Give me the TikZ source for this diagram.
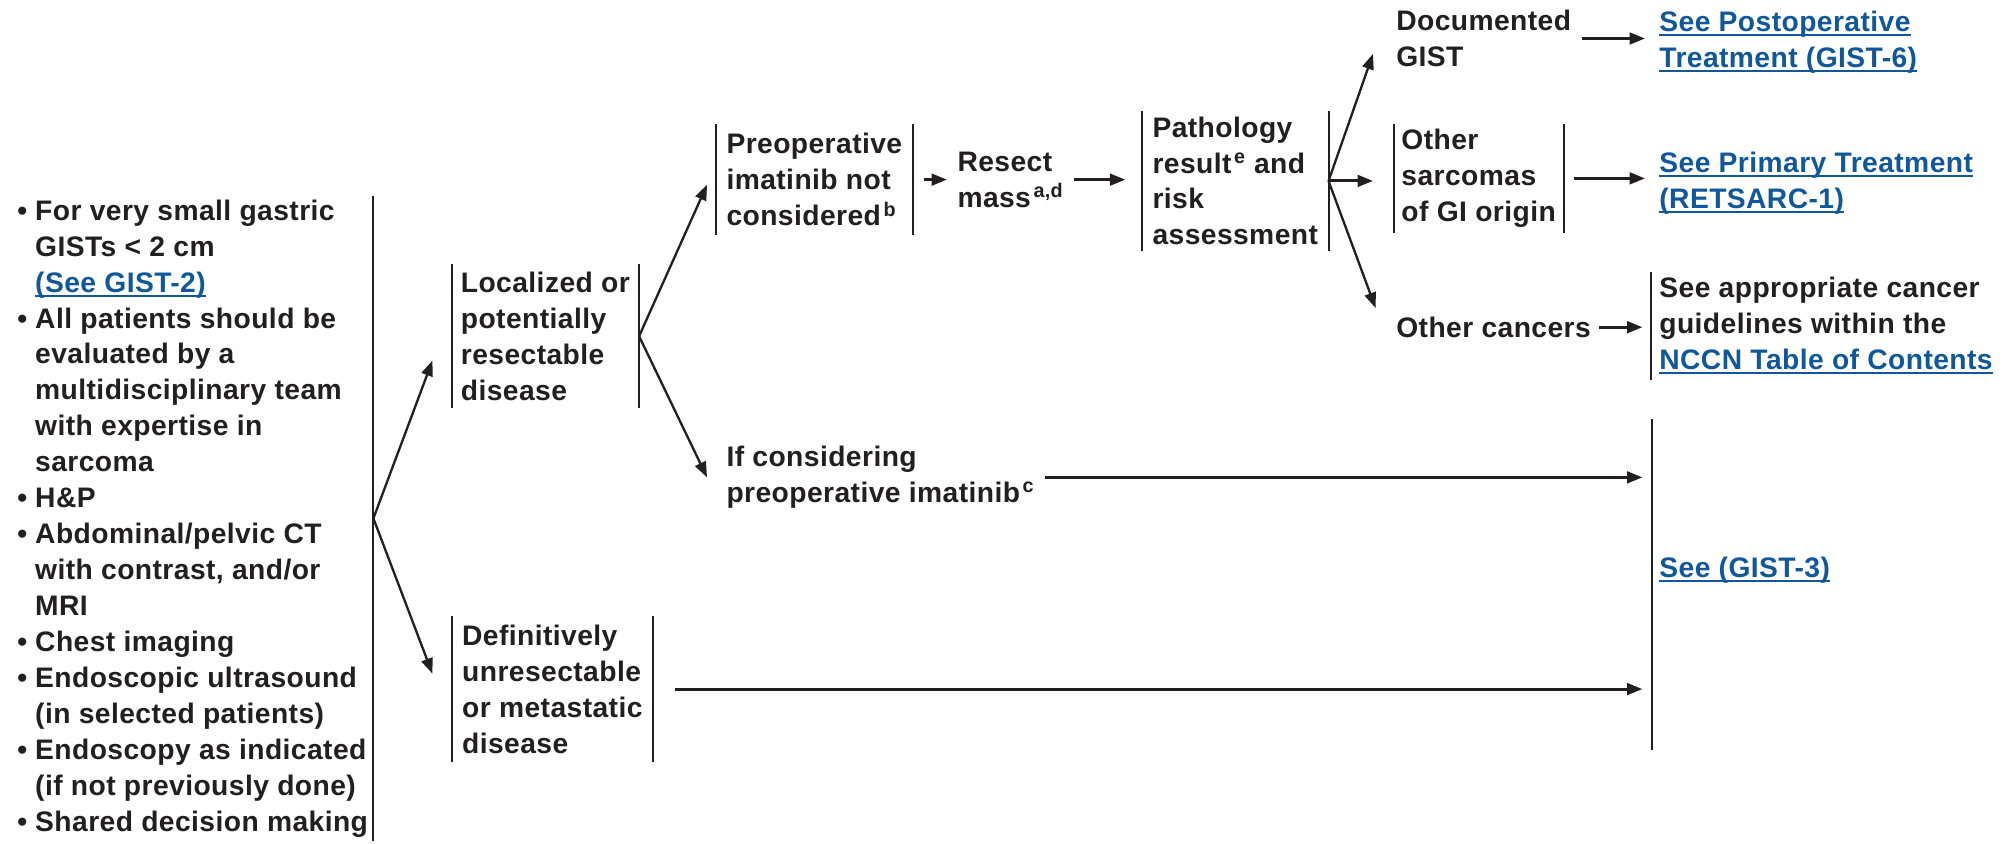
\documentclass[tikz,border=0pt]{standalone}
\usepackage{fontspec}
\setmainfont{Liberation Sans}[LetterSpace=1.5]
\usetikzlibrary{arrows.meta}
\definecolor{ink}{RGB}{35,31,32}
\definecolor{lnk}{RGB}{16,88,155}
\newcommand{\lk}[1]{\textcolor{lnk}{\setbox0\hbox{#1}\rlap{\rule[-3.5pt]{\wd0}{1.5pt}}\box0}}
\newcommand{\sps}[1]{\kern2pt\textsuperscript{#1}}
\newcommand{\bul}{\makebox[14pt][l]{\textbullet}}
\newcommand{\ind}{\hspace*{14pt}}
\begin{document}
\begin{tikzpicture}[x=1pt,y=-1pt,
  every node/.style={font=\fontsize{22}{28}\selectfont\bfseries, text=ink, align=left, inner ysep=0pt},
  tx/.style={anchor=west, inner xsep=8pt},
  bx/.style={anchor=west, inner xsep=8pt, minimum height=#1},
  arr/.style={draw=ink, line width=1.8pt, -{Triangle[length=12pt,width=9pt]}},
  harr/.style={arr, line width=2.3pt},
  brk/.style={draw=ink, line width=1.6pt}]
\useasboundingbox (0,0) rectangle (1568,657);

% left column
\node[anchor=east, inner xsep=4pt, minimum height=502pt] (left) at (291,404) {%
\bul For very small gastric\\
\ind GISTs < 2 cm\\
\ind\lk{(See GIST-2)}\\
\bul All patients should be\\
\ind evaluated by a\\
\ind multidisciplinary team\\
\ind with expertise in\\
\ind sarcoma\\
\bul H\&P\\
\bul Abdominal/pelvic CT\\
\ind with contrast, and/or\\
\ind MRI\\
\bul Chest imaging\\
\bul Endoscopic ultrasound\\
\ind (in selected patients)\\
\bul Endoscopy as indicated\\
\ind (if not previously done)\\
\bul Shared decision making};
\draw[brk] (left.north east) -- (left.south east);

% boxes
\node[bx=112pt, inner xsep=7pt] (loc) at (352,262) {Localized or\\potentially\\resectable\\disease};
\draw[brk] (loc.north west) -- (loc.south west) (loc.north east) -- (loc.south east);

\node[bx=113pt] (def) at (352,537) {Definitively\\unresectable\\or metastatic\\disease};
\draw[brk] (def.north west) -- (def.south west) (def.north east) -- (def.south east);

\node[bx=86pt] (pre) at (558,140) {Preoperative\\imatinib not\\considered\sps{b}};
\draw[brk] (pre.north west) -- (pre.south west) (pre.north east) -- (pre.south east);

\node[tx] (ifc) at (558,372) {If considering\\preoperative imatinib\sps{c}};

\node[tx] (resect) at (738,140) {Resect\\mass\sps{a,d}};

\node[bx=109pt] (path) at (890,141) {Pathology\\result\sps{e} and\\risk\\assessment};
\draw[brk] (path.north west) -- (path.south west) (path.north east) -- (path.south east);

\node[tx] (doc) at (1080,30) {Documented\\GIST};
\node[tx] (postop) at (1285,33) {\lk{See Postoperative}\\\lk{Treatment (GIST-6)}};

\node[bx=85pt, inner xsep=6pt] (osarc) at (1086,139) {Other\\sarcomas\\of GI origin};
\draw[brk] (osarc.north west) -- (osarc.south west) (osarc.north east) -- (osarc.south east);
\node[tx] (prim) at (1285,143) {\lk{See Primary Treatment}\\\lk{(RETSARC-1)}};

\node[tx, inner xsep=6pt] (ocan) at (1082,255) {Other cancers};
\node[bx=84pt, inner xsep=6pt] (appr) at (1287,254) {See appropriate cancer\\guidelines within the\\\lk{NCCN Table of Contents}};
\draw[brk] (appr.north west) -- (appr.south west);

\node[bx=257pt, inner xsep=0pt, minimum width=0pt] (g3) at (1287,455.5) {};
\draw[brk] (g3.north) -- (g3.south);
\node[tx, inner xsep=6pt] (g3t) at (1287,444) {\lk{See (GIST-3)}};

% connectors
\draw[arr] (left.east) -- ([xshift=-15pt,yshift=-19pt]loc.west);
\draw[arr] (left.east) -- ([xshift=-15pt,yshift=12pt]def.west);
\draw[arr] (loc.east) -- ([xshift=-7pt,yshift=-4pt]pre.west);
\draw[arr] (loc.east) -- ([xshift=-7pt]ifc.west);
\draw[harr, shorten <=9pt] (pre.east) -- (resect.west);
\draw[harr, shorten >=13pt] (resect.east) -- (resect.east -| path.west);
\draw[arr] (path.east) -- ([xshift=-10pt,yshift=-12pt]doc.west);
\draw[harr, shorten >=16pt] (path.east) -- (path.east -| osarc.west);
\draw[arr] (path.east) -- ([xshift=-10pt,yshift=15pt]ocan.west);
\draw[harr, shorten >=3pt] (doc.east) -- (doc.east -| postop.west);
\draw[harr, shorten <=8pt, shorten >=3pt] (osarc.east) -- (osarc.east -| prim.west);
\draw[harr, shorten >=7pt] (ocan.east) -- (ocan.east -| appr.west);
\draw[harr, shorten >=7pt] (ifc.east) -- (ifc.east -| g3.west);
\draw[harr, shorten <=17pt, shorten >=7pt] (def.east) -- (def.east -| g3.west);
\end{tikzpicture}
\end{document}
